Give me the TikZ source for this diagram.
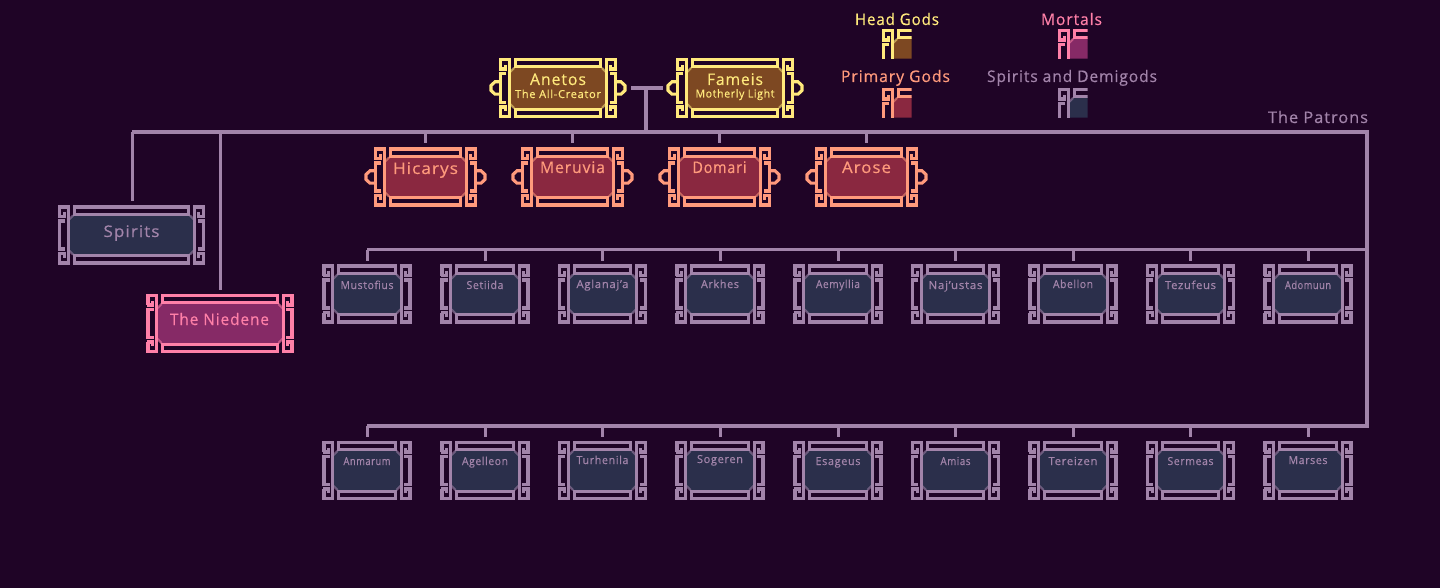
\documentclass[tikz,border=0pt]{standalone}
\usepackage{graphicx}
\usepackage{fontspec}
\setmainfont[LetterSpace=6,FakeBold=0.5]{Open Sans}
\definecolor{bgc}{HTML}{1F0426}
\definecolor{yel}{HTML}{FFE97C}
\definecolor{bro}{HTML}{7D4822}
\definecolor{cor}{HTML}{FF9A7C}
\definecolor{red}{HTML}{8A2840}
\definecolor{pnk}{HTML}{FF80A8}
\definecolor{mag}{HTML}{862A66}
\definecolor{pur}{HTML}{A284AA}
\definecolor{sla}{HTML}{2B2F4B}
\tikzset{
  conn/.style={draw=pur,line width=3.6pt},
  stub/.style={draw=pur,line width=3pt,shorten >=4pt},
  orn/.style={line width=3.1pt,line cap=butt,line join=miter},
  slot/.style={inner sep=0pt,outer sep=0pt,rectangle},
  lbl/.style={inner sep=0pt,outer sep=0pt,anchor=base},
}
% quarter ornament, local origin = outer corner of the frame
\newcommand\quarter[3]{% half width, half height, colour
  \draw[orn,#3] (1.5,11) -- (1.5,1.5) -- (10.3,1.5) -- (10.3,#2);
  \draw[orn,#3] (0,11) -- (6.2,11) -- (6.2,6.8);
  \draw[orn,#3] (7.2,15.5) -- (1.5,15.5) -- (1.5,#2);
  \draw[orn,#3] (16.3,10) -- (16.3,1.5) -- (#1,1.5);
  \draw[orn,#3] (14.8,8.6) -- (#1,8.6);
  \draw[#3,opacity=0.55,line width=2.2pt] (15,10) -- (11,14);
}
\newcommand\bodyfill[5]{% cx cy hw hh colour
  \fill[#5] ({#1-#3+10.5},{#2-#4+15}) -- ({#1-#3+15},{#2-#4+9}) -- ({#1+#3-15},{#2-#4+9})
    -- ({#1+#3-10.5},{#2-#4+15}) -- ({#1+#3-10.5},{#2+#4-15}) -- ({#1+#3-15},{#2+#4-9})
    -- ({#1-#3+15},{#2+#4-9}) -- ({#1-#3+10.5},{#2+#4-15}) -- cycle;
}
% name cx cy w h stroke fill
\newcommand\frameN[7]{%
  \pgfmathsetmacro\hw{#4/2}\pgfmathsetmacro\hh{#5/2}%
  \node[slot,minimum width=#4pt,minimum height=#5pt] (#1) at (#2,#3) {};
  \bodyfill{#2}{#3}{\hw}{\hh}{#7}
  \foreach \sx/\sy in {1/1,-1/1,1/-1,-1/-1}{
    \begin{scope}[shift={(#2,#3)},xscale=\sx,yscale=\sy]
      \begin{scope}[shift={(-\hw,-\hh)}]
        \quarter{\hw}{\hh}{#6}
      \end{scope}
    \end{scope}
  }
}
\newcommand\crescents[5]{% cx cy w colour
  \pgfmathsetmacro\hw{#3/2}%
  \foreach \sx in {1,-1}{
    \begin{scope}[shift={(#1,#2)},xscale=\sx]
      \draw[orn,#4] (\hw,-6.2) -- ({\hw+4},-6.2) -- ({\hw+8},-2.5) -- ({\hw+8},2.5) -- ({\hw+4},6.2) -- (\hw,6.2);
    \end{scope}
  }
}
% name x y width colour size text
\newcommand\tx[7][]{%
  \node[lbl,text=#5] (#2) at (#3,#4) {\fontsize{#6}{#6}\selectfont\resizebox{#1pt}{\height}{#7}};
}
% swatch: name x y stroke fill
\newcommand\swatch[5]{%
  \node[slot,minimum size=30pt,anchor=north west] (#1) at (#2,#3) {};
  \begin{scope}[shift={(#2,#3)}]
    \fill[#5] (10.5,15) -- (15,9) -- (29.7,9) -- (29.7,29.7) -- (10.5,29.7) -- cycle;
    \begin{scope}
      \clip (0,0) rectangle (29.7,29.7);
      \quarter{29.7}{29.7}{#4}
    \end{scope}
  \end{scope}
}
\begin{document}
\begin{tikzpicture}[x=1pt,y=-1pt]
\fill[bgc] (0,0) rectangle (1440,588);
\useasboundingbox (0,0) rectangle (1440,588);

% head gods
\frameN{anetos}{558}{88}{118}{60}{yel}{bro}
\crescents{558}{88}{118}{yel}{}
\frameN{fameis}{735}{88}{118}{60}{yel}{bro}
\crescents{735}{88}{118}{yel}{}
\tx[56]{tAnetos}{558}{85}{yel}{16}{Anetos}
\tx[86]{tAnetosB}{558}{98}{yel}{11}{The All-Creator}
\tx[56]{tFameis}{735}{85}{yel}{16}{Fameis}
\tx[79]{tFameisB}{735}{97.5}{yel}{11}{Motherly Light}

% primary gods
\foreach \nm/\cx/\wid/\by in {Hicarys/425.5/65/174,Meruvia/572.5/65/173,Domari/719.5/54/173,Arose/866.5/49/173}{
  \frameN{\nm}{\cx}{177}{103}{59}{cor}{red}
  \crescents{\cx}{177}{103}{cor}{}
  \tx[\wid]{t\nm}{\cx}{\by}{cor}{16}{\nm}
}

% spirits & niedene
\frameN{spirits}{131.5}{235}{147}{59}{pur}{sla}
\tx[56]{tSpirits}{131.5}{237}{pur}{16}{Spirits}
\frameN{niedene}{220}{323.5}{147}{59}{pnk}{mag}
\tx[99]{tNiedene}{219.5}{325}{pnk}{16}{The Niedene}

% row one
\foreach \i/\nm/\cx/\wid/\by in {a1/Mustofius/367/53/289,a2/Setiida/485/37/289,a3/Aglanaj'a/602.5/52/288,a4/Arkhes/720/38/288,a5/Aemyllia/838/44/288,a6/Naj'ustas/955.5/54/289,a7/Abellon/1073/40/288,a8/Tezufeus/1190.5/51/289,a9/Adomuun/1308/46/289}{
  \frameN{\i}{\cx}{294}{89}{59}{pur}{sla}
  \tx[\wid]{t\i}{\cx}{\by}{pur}{11}{\nm}
}
% row two
\foreach \i/\nm/\cx/\wid/\by in {b1/Anmarum/367/47/465,b2/Agelleon/485/46/465,b3/Turhenila/602.5/52/464,b4/Sogeren/720/46/463,b5/Esageus/838/45/465,b6/Amias/955.5/30/465,b7/Tereizen/1073/49/465,b8/Sermeas/1190.5/46/465,b9/Marses/1308/39/464}{
  \frameN{\i}{\cx}{470.5}{89}{59}{pur}{sla}
  \tx[\wid]{t\i}{\cx}{\by}{pur}{11}{\nm}
}

% legend
\tx[84]{lHead}{897}{25}{yel}{16}{Head Gods}
\swatch{sHead}{882}{29}{yel}{bro}
\tx[109]{lPrimary}{895.5}{82}{cor}{16}{Primary Gods}
\swatch{sPrimary}{882}{88}{cor}{red}
\tx[61]{lMortals}{1071.5}{25}{pnk}{16}{Mortals}
\swatch{sMortals}{1058}{29}{pnk}{mag}
\tx[170]{lSpirits}{1072}{82}{pur}{16}{Spirits and Demigods}
\swatch{sSpirits}{1058}{88}{pur}{sla}
\tx[100]{lPatrons}{1318}{123}{pur}{16}{The Patrons}

% connectors
\coordinate (busTL) at (132,132);
\coordinate (busTR) at (1367,132);
\coordinate (busMid) at (646,132);
\coordinate (bus1L) at (367,249.5);
\coordinate (bus1R) at (1367,249.5);
\coordinate (bus2L) at (367,426);
\coordinate (bus2R) at (1367,426);
\coordinate (wed) at (646,88);
\coordinate (wedA) at (631,88);
\coordinate (wedB) at (663,88);
\draw[conn] (wedA) -- (wedB);
\draw[conn] (wed) -- (busMid);
\draw[conn,line join=miter] (busTL) -- (busTR) -- (bus2R) -- (bus2L);
\draw[conn] (bus1L) -- (bus1R);
\draw[stub] (busTL) -- (busTL |- spirits.north);
\draw[stub] (busTL -| niedene.north) -- (niedene.north);
\foreach \nm in {Hicarys,Meruvia,Domari,Arose}{
  \draw[stub] (busTL -| \nm.north) -- (\nm.north);
}
\foreach \i in {1,...,9}{
  \draw[stub] (bus1L -| a\i.north) -- (a\i.north);
  \draw[stub] (bus2L -| b\i.north) -- (b\i.north);
}
\end{tikzpicture}
\end{document}
